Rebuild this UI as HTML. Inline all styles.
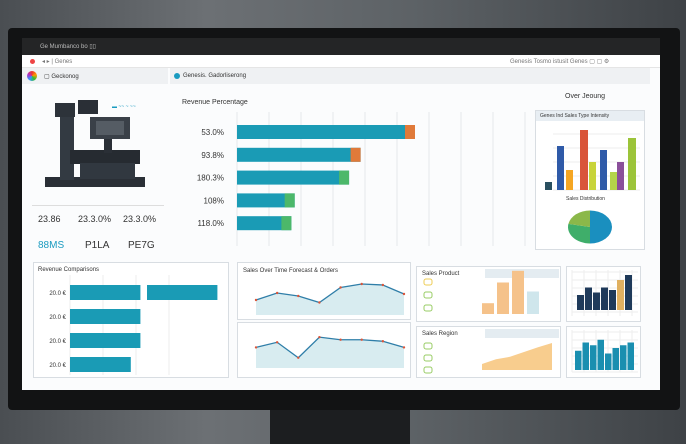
<!DOCTYPE html>
<html><head><meta charset="utf-8"><style>
*{margin:0;padding:0;box-sizing:border-box}
body{width:686px;height:444px;overflow:hidden;font-family:"Liberation Sans",sans-serif;background:linear-gradient(90deg,#4a4e52,#6c7074 30%,#5d6266 60%,#3e4246);position:relative}
.a{position:absolute}
.t{position:absolute;font-size:6px;color:#333;white-space:nowrap}
.card{position:absolute;background:#fff;border:1px solid #d8dde2}
</style></head><body>
<div class="a" style="left:270px;top:405px;width:140px;height:39px;background:#1c1e20"></div>
<div class="a" style="left:8px;top:28px;width:672px;height:382px;background:#121314;border-radius:4px"></div>
<div class="a" style="left:22px;top:38px;width:638px;height:17px;background:#242526"><span class="t" style="color:#bbb;left:18px;top:5px">Ge  Mumbanco  bo  ▯▯</span></div>
<div class="a" style="left:22px;top:55px;width:638px;height:335px;background:#fbfcfd"></div>
<div class="a" style="left:22px;top:55px;width:638px;height:13px;background:#fff;border-bottom:1px solid #e5e5e5">
<span class="a" style="left:8px;top:4px;width:5px;height:5px;border-radius:50%;background:#e44"></span><span class="t" style="left:20px;top:3px;color:#777">◂ ▸ | Genes</span><span class="t" style="left:488px;top:3px;color:#777">Genesis    Tosmo istusit    Genes   ▢  ▢  ⚙</span></div>
<div class="a" style="left:22px;top:68px;width:146px;height:16px;background:#eff1f3"><span class="a" style="left:5px;top:3px;width:10px;height:10px;border-radius:50%;background:conic-gradient(#e33,#f90,#3b3,#39f,#a3c,#e33)"></span><span class="t" style="left:22px;top:5px">▢ Geckonog</span></div>
<div class="a" style="left:170px;top:68px;width:480px;height:16px;background:#eff1f3"><span class="a" style="left:4px;top:5px;width:6px;height:6px;border-radius:50%;background:#1a9bc0"></span><span class="t" style="left:13px;top:5px">Genesis. Gadorliserong</span></div>
<svg class="a" style="left:40px;top:95px" width="115" height="105">
<rect x="5" y="82" width="100" height="10" fill="#2a2f36"/><rect x="20" y="20" width="14" height="65" fill="#333a42"/><rect x="15" y="8" width="20" height="14" fill="#2d333a"/><rect x="38" y="5" width="20" height="14" fill="#2a2f36"/><rect x="50" y="22" width="40" height="22" fill="#3a4048"/><rect x="56" y="26" width="28" height="14" fill="#555c64"/><rect x="30" y="55" width="70" height="14" fill="#262b31"/><rect x="40" y="68" width="55" height="16" fill="#313840"/><rect x="64" y="44" width="8" height="14" fill="#2a2f36"/><text x="72" y="13" font-size="5" fill="#1a9bc0">▬ ~~ ~ ~~</text></svg>
<div class="a" style="left:32px;top:205px;width:132px;height:1px;background:#ddd"></div>
<div class="t" style="left:38px;top:214px;font-size:9px">23.86</div>
<div class="t" style="left:78px;top:214px;font-size:9px">23.3.0%</div>
<div class="t" style="left:123px;top:214px;font-size:9px">23.3.0%</div>
<div class="t" style="left:38px;top:240px;font-size:10px;color:#1a9bc0">88MS</div>
<div class="t" style="left:85px;top:240px;font-size:10px">P1LA</div>
<div class="t" style="left:128px;top:240px;font-size:10px">PE7G</div>
<div class="t" style="left:182px;top:99px;font-size:7px">Revenue Percentage</div>
<div class="t" style="left:565px;top:93px;font-size:7px">Over Jeoung</div>
<div class="card" style="left:535px;top:110px;width:110px;height:140px"><div class="a" style="left:0;top:0;width:108px;height:10px;background:#e8eef3"></div><span class="t" style="left:4px;top:2px;font-size:5px">Genes Ind Sales Type Intensity</span><span class="t" style="left:30px;top:85px;font-size:5px">Sales Distribution</span></div>
<svg id="main" class="a" style="left:0;top:0" width="686" height="444"></svg>
<div class="card" style="left:33px;top:262px;width:196px;height:116px"><span class="t" style="left:4px;top:4px">Revenue Comparisons</span></div>
<div class="card" style="left:237px;top:262px;width:174px;height:58px"><span class="t" style="left:5px;top:5px">Sales Over Time Forecast &amp; Orders</span></div>
<div class="card" style="left:237px;top:322px;width:174px;height:56px"></div>
<div class="card" style="left:416px;top:266px;width:145px;height:56px"><span class="t" style="left:5px;top:4px">Sales Product</span><div class="a" style="left:68px;top:2px;width:74px;height:9px;background:#e4ecf1"></div></div>
<div class="card" style="left:416px;top:326px;width:145px;height:52px"><span class="t" style="left:5px;top:4px">Sales Region</span><div class="a" style="left:68px;top:2px;width:74px;height:9px;background:#e4ecf1"></div></div>
<div class="card" style="left:566px;top:266px;width:75px;height:56px"></div>
<div class="card" style="left:566px;top:326px;width:75px;height:52px"></div>
<svg id="over" class="a" style="left:0;top:0" width="686" height="444"></svg>
<script>
const hbarLabels=["53.0%","93.8%","180.3%","108%","118.0%"];
const hbarValues=[54,37.5,34,17.5,16.5];
const sideBarValues=[44,20,60,28,40,18,28,52];
const sideBarColors=["#2f5aa8","#f5a623","#d9553a","#c8d43a","#2f5aa8","#b4d44a","#8a4f9a","#9cc43a"];
const pieValues=[50,28,22];
const pieColors=["#1a8fbf","#3fae6a","#8bb84a"];
const cmpValues=[[22,22],[22],[22],[19]];
const line1=[30,44,38,25,55,62,60,42];
const line2=[40,50,20,60,55,55,52,40];
const prodBars=[12,35,48,25];
const regionArea=[10,18,22,30,38,45];
const navyBars=[30,45,35,45,40,60,70];
const tealBars=[35,50,45,55,30,40,45,50];
const NS="http://www.w3.org/2000/svg";
const svg=document.getElementById('over');
function mk(tag,at,parent){const e=document.createElementNS(NS,tag);for(const k in at)e.setAttribute(k,at[k]);(parent||svg).appendChild(e);return e;}
// main hbar
const hx=v=>237+v*(178/54);
for(let i=0;i<10;i++){const l=mk('line',{x1:237+i*32,x2:237+i*32,y1:112,y2:246,stroke:'#e6e9ec'});}
hbarValues.forEach((v,i)=>{const y=125+i*22.8;
const r=mk('rect',{x:237,y:y,width:hx(v)-237,height:14,fill:'#1a9bb5'});
mk('rect',{x:hx(v)-10,y:y,width:10,height:14,fill:i<2?'#e07a3a':'#4cb86a'});
const t=mk('text',{x:224,y:y+10,'font-size':8,'text-anchor':'end',fill:'#333','font-family':'Liberation Sans'});t.textContent=hbarLabels[i];});
// side bars
const sb=[557,566,580,589,600,610,617,628];
for(let i=0;i<5;i++)mk('line',{x1:553,x2:640,y1:190-i*14,y2:190-i*14,stroke:'#eee'});
sideBarValues.forEach((v,i)=>{const h=v;const r=mk('rect',{x:sb[i],y:190-h,width:i==2||i==7?8:7,height:h,fill:sideBarColors[i]});});
mk('rect',{x:545,y:182,width:7,height:8,fill:'#2a5060'});
// pie
let a0=-Math.PI/2;const cx=590,cy=227,R=22,tot=pieValues.reduce((a,b)=>a+b);
pieValues.forEach((v,i)=>{const a1=a0+v/tot*2*Math.PI;const p=mk('path',{d:`M${cx},${cy}L${cx+R*Math.cos(a0)},${cy+R*0.75*Math.sin(a0)}A${R},${R*0.75} 0 ${a1-a0>Math.PI?1:0} 1 ${cx+R*Math.cos(a1)},${cy+R*0.75*Math.sin(a1)}Z`,fill:pieColors[i]});a0=a1;});
// comparison bars
for(let i=0;i<4;i++)mk('line',{x1:70+i*33,x2:70+i*33,y1:275,y2:375,stroke:'#eee'});
cmpValues.forEach((row,i)=>{const y=285+i*24;row.forEach((v,j)=>{const r=mk('rect',{x:70+j*77,y:y,width:v*3.2,height:15,fill:'#1a9bb5'});});
const t=mk('text',{x:66,y:y+10,'font-size':6,'text-anchor':'end',fill:'#333'});t.textContent='20.0 €';});
// lines
function line(data,top,h,name){const xs=i=>256+i*(148/(data.length-1));const ys=v=>top+h-v/70*h;
let d=data.map((v,i)=>(i?'L':'M')+xs(i)+','+ys(v)).join('');
mk('path',{d:d+`L${xs(data.length-1)},${top+h}L256,${top+h}Z`,fill:'#d8ecf0'});
const p=mk('path',{d:d,fill:'none',stroke:'#2f7ea8','stroke-width':1.3});
data.forEach((v,i)=>mk('circle',{cx:xs(i),cy:ys(v),r:1.2,fill:'#d9553a'}));}
line(line1,280,35,'line-top');line(line2,332,36,'line-bottom');
// product bars
prodBars.forEach((v,i)=>{const r=mk('rect',{x:482+i*15,y:314-v*0.9,width:12,height:v*0.9,fill:i==3?'#cfe6ec':'#f5c28a'});});
[0,1,2].forEach(i=>{mk('rect',{x:424,y:279+i*13,width:8,height:6,fill:'none',stroke:i?'#9c6':'#ec5',rx:2});});
// region area
{const xs=i=>482+i*(70/(regionArea.length-1));let d='M482,370'+regionArea.map((v,i)=>'L'+xs(i)+','+(370-v*0.6)).join('')+'L552,370Z';const p=mk('path',{d:d,fill:'#f8cd8e'});}
[0,1,2].forEach(i=>{mk('rect',{x:424,y:343+i*12,width:8,height:6,fill:'none',stroke:'#9c6',rx:2});});
// navy bars
for(let i=0;i<6;i++){mk('line',{x1:572+i*12,x2:572+i*12,y1:270,y2:316,stroke:'#eee'});mk('line',{x1:572,x2:638,y1:272+i*8,y2:272+i*8,stroke:'#eee'});}
navyBars.forEach((v,i)=>{const r=mk('rect',{x:577+i*8,y:310-v*0.5,width:7,height:v*0.5,fill:i==5?'#e0b060':'#1f3a5a'});});
for(let i=0;i<6;i++){mk('line',{x1:572+i*12,x2:572+i*12,y1:330,y2:372,stroke:'#eee'});mk('line',{x1:572,x2:638,y1:332+i*8,y2:332+i*8,stroke:'#eee'});}
tealBars.forEach((v,i)=>{const r=mk('rect',{x:575+i*7.5,y:370-v*0.55,width:6.5,height:v*0.55,fill:'#1a8fb0'});});
</script>
</body></html>
